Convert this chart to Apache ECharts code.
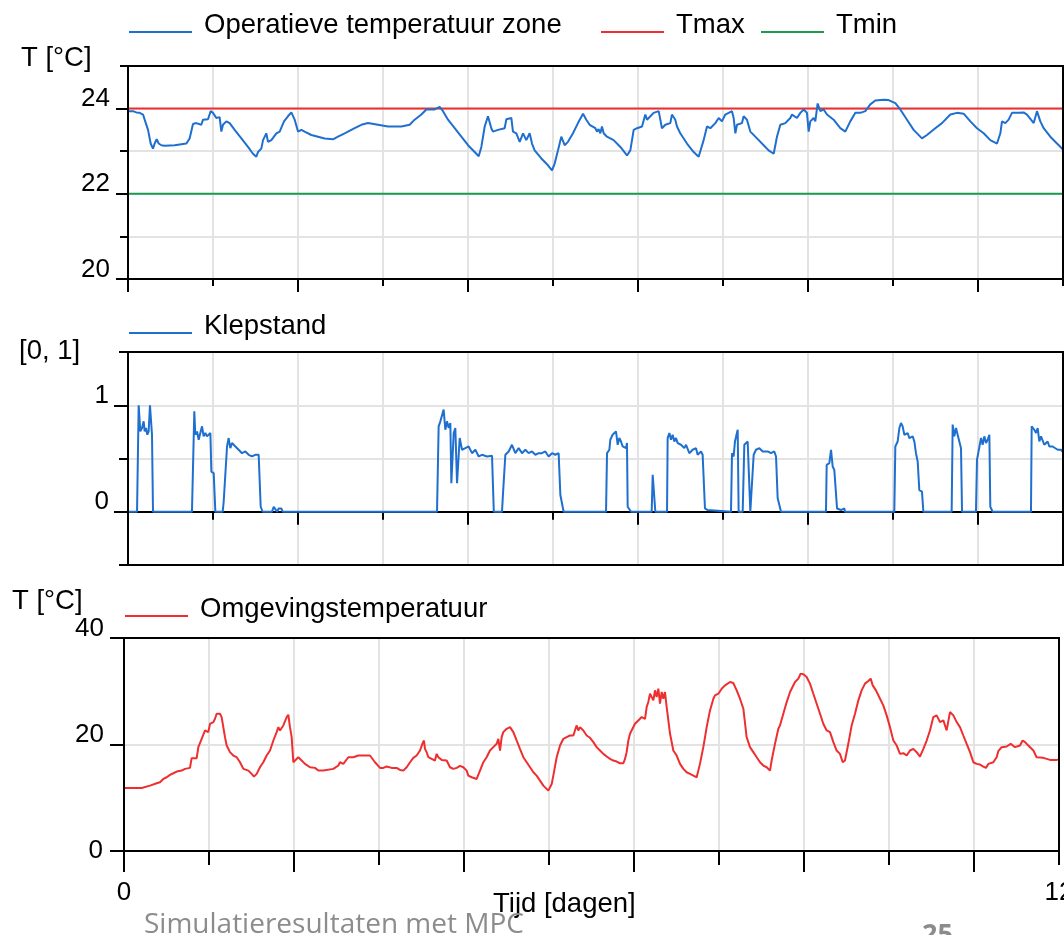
<!DOCTYPE html>
<html><head><meta charset="utf-8">
<script src="https://cdn.jsdelivr.net/npm/echarts@6/dist/echarts.min.js"></script>
<style>html,body{margin:0;padding:0;background:#fff}#c{width:1064px;height:935px}</style>
</head><body><div id="c"></div>
<script>
// ---- data (time in days) ----
const tZone = [[0.000,23.94],[0.021,23.98],[0.064,23.94],[0.107,23.91],[0.128,23.88],[0.150,23.90],[0.193,23.86],[0.214,23.74],[0.257,23.50],[0.291,23.18],[0.321,23.06],[0.342,23.18],[0.368,23.28],[0.394,23.18],[0.428,23.14],[0.471,23.13],[0.599,23.14],[0.749,23.18],[0.791,23.30],[0.834,23.64],[0.877,23.66],[0.941,23.62],[0.963,23.74],[1.027,23.75],[1.061,23.94],[1.091,23.90],[1.134,23.78],[1.176,23.80],[1.198,23.46],[1.219,23.62],[1.262,23.70],[1.305,23.66],[1.369,23.50],[1.455,23.30],[1.540,23.10],[1.604,22.94],[1.647,22.87],[1.668,22.98],[1.711,23.06],[1.733,23.26],[1.754,23.30],[1.775,23.42],[1.797,23.22],[1.840,23.26],[1.904,23.42],[1.947,23.46],[2.002,23.70],[2.053,23.82],[2.096,23.91],[2.139,23.74],[2.182,23.46],[2.225,23.50],[2.267,23.46],[2.353,23.38],[2.524,23.30],[2.631,23.28],[2.695,23.34],[2.781,23.42],[2.909,23.54],[2.995,23.62],[3.080,23.66],[3.209,23.62],[3.337,23.58],[3.508,23.58],[3.615,23.62],[3.679,23.74],[3.765,23.86],[3.829,23.98],[3.936,23.98],[4.000,24.04],[4.043,23.94],[4.107,23.74],[4.193,23.54],[4.278,23.34],[4.364,23.14],[4.449,22.98],[4.501,22.88],[4.535,23.10],[4.578,23.58],[4.620,23.82],[4.663,23.54],[4.684,23.46],[4.749,23.50],[4.834,23.54],[4.856,23.75],[4.920,23.78],[4.941,23.46],[4.984,23.42],[5.027,23.22],[5.070,23.42],[5.112,23.26],[5.155,23.42],[5.185,23.18],[5.219,23.02],[5.305,22.83],[5.390,22.67],[5.442,22.55],[5.476,22.71],[5.519,23.02],[5.561,23.34],[5.604,23.14],[5.647,23.22],[5.711,23.42],[5.775,23.66],[5.840,23.88],[5.882,23.74],[5.925,23.62],[5.998,23.54],[6.019,23.46],[6.040,23.52],[6.062,23.42],[6.083,23.58],[6.105,23.42],[6.147,23.34],[6.233,23.26],[6.319,23.10],[6.404,22.90],[6.447,23.02],[6.490,23.50],[6.533,23.54],[6.597,23.58],[6.639,23.86],[6.661,23.74],[6.704,23.82],[6.746,23.90],[6.768,23.86],[6.811,23.94],[6.832,23.74],[6.853,23.54],[6.896,23.62],[6.960,23.66],[6.981,23.86],[7.024,23.74],[7.046,23.58],[7.088,23.42],[7.174,23.18],[7.260,22.98],[7.324,22.87],[7.388,23.26],[7.431,23.58],[7.474,23.54],[7.538,23.66],[7.581,23.78],[7.623,23.70],[7.666,23.86],[7.752,23.94],[7.773,23.78],[7.795,23.42],[7.816,23.62],[7.880,23.66],[7.901,23.82],[7.944,23.74],[7.987,23.46],[8.073,23.30],[8.158,23.14],[8.222,23.02],[8.287,22.94],[8.329,23.34],[8.372,23.62],[8.436,23.66],[8.500,23.78],[8.522,23.86],[8.543,23.82],[8.586,23.78],[8.629,23.90],[8.672,23.98],[8.714,23.90],[8.736,23.46],[8.757,23.70],[8.800,23.78],[8.821,23.70],[8.851,24.12],[8.886,23.94],[8.928,23.98],[8.971,23.86],[9.056,23.74],[9.142,23.54],[9.206,23.46],[9.270,23.70],[9.335,23.90],[9.399,23.90],[9.463,23.94],[9.527,24.10],[9.591,24.19],[9.698,24.21],[9.762,24.20],[9.848,24.13],[9.912,23.98],[9.998,23.74],[10.083,23.50],[10.190,23.30],[10.254,23.38],[10.361,23.54],[10.447,23.66],[10.554,23.86],[10.640,23.90],[10.725,23.88],[10.811,23.70],[10.896,23.54],[10.982,23.42],[11.067,23.26],[11.153,23.18],[11.196,23.42],[11.217,23.70],[11.260,23.66],[11.302,23.74],[11.345,23.90],[11.431,23.90],[11.495,23.91],[11.538,23.86],[11.624,23.66],[11.666,23.94],[11.709,23.70],[11.752,23.54],[11.837,23.34],[11.923,23.18],[12.000,23.04]];
const tMax = [[0,24],[12,24]];
const tMin = [[0,22],[12,22]];
const klepstand = [[0,0],[0.116,0],[0.137,1.0],[0.146,1.0],[0.158,0.755],[0.180,0.786],[0.201,0.849],[0.214,0.755],[0.231,0.786],[0.248,0.723],[0.265,0.755],[0.282,1.0],[0.300,1.0],[0.308,0.723],[0.321,0],[0.821,0],[0.851,0.943],[0.864,0.723],[0.886,0.755],[0.907,0.676],[0.928,0.739],[0.950,0.802],[0.971,0.708],[0.993,0.739],[1.014,0.708],[1.057,0.739],[1.070,0.377],[1.100,0.362],[1.121,0],[1.215,0],[1.228,0.094],[1.249,0.094],[1.271,0.613],[1.292,0.692],[1.313,0.597],[1.335,0.645],[1.378,0.613],[1.420,0.582],[1.463,0.550],[1.506,0.566],[1.549,0.535],[1.591,0.519],[1.634,0.535],[1.677,0.535],[1.690,0.535],[1.703,0.047],[1.728,0],[1.848,0],[1.870,0.047],[1.891,0.047],[1.912,0],[1.934,0.031],[1.968,0.031],[1.985,0],[3.966,0],[3.987,0.802],[4.009,0.849],[4.030,0.865],[4.051,0.959],[4.073,0.770],[4.094,0.849],[4.116,0.786],[4.137,0.833],[4.150,0.267],[4.167,0.267],[4.180,0.739],[4.201,0.786],[4.223,0.267],[4.244,0.283],[4.257,0.692],[4.287,0.582],[4.329,0.597],[4.372,0.613],[4.415,0.550],[4.458,0.582],[4.501,0.519],[4.543,0.535],[4.608,0.519],[4.672,0.525],[4.693,0.525],[4.695,0],[4.800,0],[4.813,0.173],[4.830,0.173],[4.843,0.535],[4.886,0.566],[4.928,0.629],[4.971,0.550],[5.014,0.597],[5.057,0.550],[5.100,0.582],[5.142,0.550],[5.185,0.566],[5.228,0.535],[5.271,0.550],[5.313,0.550],[5.356,0.566],[5.399,0.519],[5.442,0.550],[5.485,0.535],[5.527,0.550],[5.549,0.157],[5.570,0.157],[5.591,0],[6.135,0],[6.148,0.550],[6.178,0.582],[6.190,0.676],[6.220,0.723],[6.242,0.708],[6.263,0.755],[6.285,0.629],[6.306,0.692],[6.327,0.660],[6.349,0.613],[6.370,0.629],[6.391,0.597],[6.404,0.645],[6.413,0.047],[6.434,0.031],[6.456,0],[6.721,0],[6.734,0.346],[6.755,0.330],[6.768,0],[6.918,0],[6.926,0.692],[6.948,0.739],[6.969,0.676],[6.990,0.723],[7.012,0.660],[7.033,0.692],[7.055,0.645],[7.076,0.645],[7.097,0.629],[7.140,0.597],[7.162,0.629],[7.204,0.550],[7.247,0.582],[7.268,0.566],[7.290,0.597],[7.311,0.535],[7.354,0.566],[7.375,0.535],[7.397,0.535],[7.405,0.031],[7.440,0.016],[7.461,0],[7.739,0],[7.752,0.550],[7.773,0.519],[7.790,0.660],[7.825,0.770],[7.837,0],[7.889,0],[7.910,0.629],[7.932,0.629],[7.953,0.660],[7.974,0.645],[7.987,0],[8.009,0],[8.030,0.535],[8.060,0.582],[8.081,0.566],[8.103,0.597],[8.124,0.613],[8.146,0.566],[8.167,0.582],[8.210,0.566],[8.252,0.550],[8.295,0.566],[8.317,0.519],[8.338,0.126],[8.359,0.110],[8.381,0],[8.958,0],[8.967,0.440],[9.001,0.456],[9.023,0.582],[9.044,0.425],[9.065,0.393],[9.087,0.377],[9.100,0.031],[9.151,0.016],[9.172,0.031],[9.194,0.031],[9.202,0],[9.835,0],[9.848,0.613],[9.878,0.660],[9.900,0.786],[9.921,0.833],[9.942,0.802],[9.964,0.723],[10.006,0.739],[10.028,0.692],[10.071,0.708],[10.092,0.660],[10.113,0.550],[10.135,0.472],[10.156,0.204],[10.190,0.189],[10.208,0],[10.571,0],[10.584,0.818],[10.605,0.708],[10.627,0.786],[10.648,0.723],[10.670,0.708],[10.691,0.597],[10.704,0],[10.883,0],[10.896,0.487],[10.918,0.503],[10.948,0.692],[10.969,0.629],[10.990,0.708],[11.012,0.645],[11.033,0.676],[11.055,0.723],[11.067,0.047],[11.097,0],[11.589,0],[11.598,0.802],[11.632,0.770],[11.654,0.739],[11.675,0.786],[11.696,0.660],[11.718,0.708],[11.739,0.723],[11.760,0.629],[11.803,0.660],[11.825,0.613],[11.867,0.613],[11.889,0.597],[11.932,0.582],[11.974,0.582],[12.000,0.560]];
const tAmb = [[0.000,11.84],[0.227,11.84],[0.240,12.15],[0.334,12.28],[0.355,12.47],[0.419,12.72],[0.462,12.91],[0.483,13.09],[0.505,13.53],[0.548,13.85],[0.590,14.29],[0.633,14.60],[0.676,14.92],[0.740,15.10],[0.783,15.42],[0.847,15.61],[0.868,17.43],[0.933,17.43],[0.954,19.50],[0.997,21.07],[1.040,22.64],[1.061,22.95],[1.082,22.32],[1.104,23.89],[1.147,24.21],[1.168,24.83],[1.189,25.78],[1.211,26.09],[1.232,25.78],[1.253,25.15],[1.275,24.83],[1.296,21.38],[1.318,19.81],[1.360,18.56],[1.403,17.93],[1.446,17.61],[1.489,16.67],[1.532,15.42],[1.596,15.10],[1.638,14.48],[1.668,13.97],[1.703,14.48],[1.745,15.73],[1.788,16.67],[1.831,17.93],[1.874,18.87],[1.917,20.75],[1.959,22.32],[1.981,23.26],[2.002,22.64],[2.045,23.58],[2.088,25.15],[2.109,25.59],[2.130,23.26],[2.152,21.38],[2.173,16.67],[2.195,16.36],[2.237,17.61],[2.280,16.99],[2.323,16.36],[2.387,15.73],[2.451,15.61],[2.494,15.10],[2.558,15.10],[2.687,15.42],[2.751,16.05],[2.772,16.67],[2.815,16.36],[2.879,17.61],[2.943,17.61],[3.007,17.93],[3.072,17.93],[3.157,17.93],[3.221,16.67],[3.286,15.61],[3.328,15.61],[3.371,15.86],[3.435,15.61],[3.499,15.61],[3.542,15.23],[3.585,15.10],[3.628,15.73],[3.671,16.67],[3.713,17.49],[3.756,17.93],[3.799,18.87],[3.833,20.25],[3.850,20.75],[3.863,19.18],[3.884,18.56],[3.906,17.61],[3.927,17.30],[3.991,16.99],[4.013,18.24],[4.034,17.61],[4.077,17.11],[4.141,16.99],[4.184,15.73],[4.227,15.42],[4.270,15.61],[4.312,15.98],[4.355,15.73],[4.398,15.10],[4.419,14.16],[4.462,13.85],[4.526,13.53],[4.569,15.10],[4.612,16.67],[4.654,17.61],[4.697,18.87],[4.740,19.50],[4.783,20.13],[4.804,21.07],[4.826,18.87],[4.847,21.38],[4.868,22.32],[4.911,22.95],[4.933,23.26],[4.954,23.26],[4.997,22.32],[5.040,20.75],[5.082,19.18],[5.125,17.61],[5.168,16.67],[5.211,15.73],[5.254,14.79],[5.296,14.16],[5.339,13.22],[5.382,12.28],[5.446,11.34],[5.489,12.59],[5.510,14.16],[5.553,17.61],[5.596,19.81],[5.639,21.07],[5.681,21.38],[5.724,21.69],[5.767,21.69],[5.788,22.64],[5.810,23.58],[5.831,22.64],[5.852,23.26],[5.895,22.64],[5.938,21.69],[5.981,21.26],[6.024,20.44],[6.066,19.50],[6.109,18.87],[6.152,18.24],[6.195,17.74],[6.238,17.30],[6.280,16.99],[6.323,16.80],[6.366,16.48],[6.409,16.48],[6.430,17.30],[6.451,18.56],[6.473,20.75],[6.494,22.01],[6.515,22.64],[6.537,22.32],[6.558,23.89],[6.580,23.89],[6.601,24.52],[6.622,24.52],[6.644,25.15],[6.665,25.47],[6.687,24.83],[6.708,27.03],[6.729,27.97],[6.751,29.54],[6.772,28.91],[6.794,28.29],[6.815,30.17],[6.836,28.91],[6.858,30.48],[6.879,27.66],[6.901,29.86],[6.922,28.60],[6.943,29.86],[6.965,27.03],[6.986,26.72],[7.008,22.01],[7.050,18.87],[7.093,17.93],[7.136,16.36],[7.179,15.42],[7.221,14.79],[7.264,14.48],[7.307,14.16],[7.350,13.85],[7.371,13.85],[7.392,16.36],[7.435,19.50],[7.457,21.38],[7.478,23.26],[7.521,26.40],[7.564,28.60],[7.585,29.23],[7.628,29.54],[7.671,30.48],[7.713,31.11],[7.778,31.74],[7.820,31.55],[7.863,30.17],[7.906,28.60],[7.949,26.72],[7.991,21.38],[8.034,19.50],[8.077,18.56],[8.120,17.61],[8.163,16.67],[8.205,16.05],[8.248,15.73],[8.291,15.10],[8.312,16.99],[8.355,20.13],[8.398,22.95],[8.419,23.58],[8.462,25.78],[8.505,27.97],[8.548,29.86],[8.612,31.74],[8.655,32.37],[8.684,33.31],[8.719,33.18],[8.761,32.68],[8.804,31.43],[8.847,29.54],[8.890,27.66],[8.933,25.78],[8.975,23.89],[9.018,22.64],[9.061,22.32],[9.104,20.44],[9.146,18.87],[9.189,18.24],[9.211,17.93],[9.224,16.67],[9.253,16.99],[9.296,20.13],[9.339,23.58],[9.382,25.78],[9.425,28.29],[9.467,30.17],[9.510,31.43],[9.553,31.93],[9.583,32.37],[9.609,31.11],[9.651,30.17],[9.703,28.60],[9.745,27.34],[9.788,25.47],[9.831,23.26],[9.874,20.75],[9.917,19.81],[9.959,18.24],[10.002,18.37],[10.045,17.93],[10.088,18.87],[10.130,19.18],[10.173,18.56],[10.216,17.74],[10.259,19.18],[10.302,20.75],[10.344,22.64],[10.387,25.15],[10.430,25.47],[10.473,24.21],[10.516,24.52],[10.558,22.64],[10.601,26.09],[10.644,25.47],[10.687,24.21],[10.729,23.26],[10.772,21.69],[10.815,20.13],[10.858,18.56],[10.901,16.67],[10.943,16.36],[10.986,16.24],[11.029,15.86],[11.063,15.61],[11.093,16.36],[11.157,16.67],[11.200,17.61],[11.221,18.74],[11.264,19.50],[11.328,19.62],[11.380,20.13],[11.435,19.50],[11.499,19.81],[11.533,20.75],[11.564,20.44],[11.606,19.81],[11.671,18.87],[11.713,17.61],[11.799,17.49],[11.842,17.30],[11.885,17.11],[11.970,17.11],[12.000,17.20]];

// ---- axis ticks ----
const xStep = 12 / 11;
const xLongTicks = [0, 2, 4, 6, 8, 10].map(k => k * xStep);
const xShortTicks = [1, 3, 5, 7, 9, 11].map(k => k * xStep);
const xLabelValues = [0, 12];
const y1Labels = [20, 22, 24], y1Minor = [21, 23, 25];
const y2Labels = [0, 1], y2Minor = [-0.5, 0.5, 1.5];
const y3Ticks = [0, 20, 40], y3Labels = [20, 40], y3ZeroLabel = [0];

const FONT = "'Liberation Sans', Arial, sans-serif";
const BLUE = '#1f6fcf', RED = '#ee2e2f', GREEN = '#1b9a52';
const GRIDC = '#e3e3e3';

const chart = echarts.init(document.getElementById('c'), null, {renderer: 'canvas'});

const gridDefs = [
  {left: 128, top: 66, width: 935, height: 213},
  {left: 128, top: 352, width: 935, height: 213},
  {left: 124, top: 638, width: 935, height: 213}
];
const xTickLen = [[13, 7], [13, 8], [21, 14]];

const xAxes = [];
gridDefs.forEach((g, gi) => {
  xAxes.push({gridIndex: gi, type: 'value', min: 0, max: 12, interval: xStep,
    axisLine: {show: false}, axisTick: {show: false}, axisLabel: {show: false},
    splitLine: {show: true, lineStyle: {color: GRIDC, width: 2}}});
  xAxes.push({gridIndex: gi, type: 'value', min: 0, max: 12, position: 'bottom',
    axisLine: {show: true, lineStyle: {color: '#000', width: 2}},
    axisTick: {show: true, length: xTickLen[gi][0], customValues: xLongTicks, lineStyle: {color: '#000', width: 2}},
    axisLabel: gi === 2 ? {show: true, customValues: xLabelValues, margin: 29, fontSize: 26, fontFamily: FONT, color: '#000'} : {show: false},
    splitLine: {show: false}});
  xAxes.push({gridIndex: gi, type: 'value', min: 0, max: 12, position: 'bottom',
    axisLine: {show: false},
    axisTick: {show: true, length: xTickLen[gi][1], customValues: xShortTicks, lineStyle: {color: '#000', width: 2}},
    axisLabel: {show: false}, splitLine: {show: false}});
});

function yLabel(vals, margin, va) {
  return {show: true, customValues: vals, margin: margin, fontSize: 26, fontFamily: FONT, color: '#000',
    verticalAlign: va || 'bottom', lineHeight: 19};
}
const yAxes = [
  // panel 1
  {gridIndex: 0, type: 'value', min: 20, max: 25, interval: 1, position: 'left',
   axisLine: {show: false}, axisTick: {show: false}, axisLabel: {show: false},
   splitLine: {show: true, lineStyle: {color: GRIDC, width: 2}}},
  {gridIndex: 0, type: 'value', min: 20, max: 25, position: 'left',
   axisLine: {show: true, lineStyle: {color: '#000', width: 2}},
   axisTick: {show: true, length: 12, customValues: y1Labels, lineStyle: {color: '#000', width: 2}},
   axisLabel: yLabel(y1Labels, 18), splitLine: {show: false}},
  {gridIndex: 0, type: 'value', min: 20, max: 25, position: 'left',
   axisLine: {show: false},
   axisTick: {show: true, length: 8, customValues: y1Minor, lineStyle: {color: '#000', width: 2}},
   axisLabel: {show: false}, splitLine: {show: false}},
  // panel 2
  {gridIndex: 1, type: 'value', min: -0.5, max: 1.5, interval: 0.5, position: 'left',
   axisLine: {show: false}, axisTick: {show: false}, axisLabel: {show: false},
   splitLine: {show: true, lineStyle: {color: GRIDC, width: 2}}},
  {gridIndex: 1, type: 'value', min: -0.5, max: 1.5, position: 'left',
   axisLine: {show: true, lineStyle: {color: '#000', width: 2}},
   axisTick: {show: true, length: 14, customValues: y2Labels, lineStyle: {color: '#000', width: 2}},
   axisLabel: yLabel(y2Labels, 19), splitLine: {show: false}},
  {gridIndex: 1, type: 'value', min: -0.5, max: 1.5, position: 'left',
   axisLine: {show: false},
   axisTick: {show: true, length: 9, customValues: y2Minor, lineStyle: {color: '#000', width: 2}},
   axisLabel: {show: false}, splitLine: {show: false}},
  // panel 3
  {gridIndex: 2, type: 'value', min: 0, max: 40, interval: 20, position: 'left',
   axisLine: {show: false}, axisTick: {show: false}, axisLabel: {show: false},
   splitLine: {show: true, lineStyle: {color: GRIDC, width: 2}}},
  {gridIndex: 2, type: 'value', min: 0, max: 40, position: 'left',
   axisLine: {show: true, lineStyle: {color: '#000', width: 2}},
   axisTick: {show: true, length: 14, customValues: y3Ticks, lineStyle: {color: '#000', width: 2}},
   axisLabel: yLabel(y3Labels, 20), splitLine: {show: false}},
  {gridIndex: 2, type: 'value', min: 0, max: 40, position: 'left',
   axisLine: {show: false}, axisTick: {show: false},
   axisLabel: yLabel(y3ZeroLabel, 21, 'middle'), splitLine: {show: false}}
];

function lineSeries(name, data, color, xi, yi) {
  return {name: name, type: 'line', data: data, xAxisIndex: xi, yAxisIndex: yi,
    showSymbol: false, symbol: 'none', smooth: false, animation: false,
    lineStyle: {color: color, width: 2}, itemStyle: {color: color}, z: 3};
}

// legend icon: a 63px line drawn low in a 20px high box (text baseline level)
const LEGEND_ICON = 'path://M0,0L0,0M0,20L0,20M0,16L63,16L63,18L0,18Z';
function legendAt(name, left, top) {
  return {data: [name], left: left, top: top, padding: 0, icon: LEGEND_ICON, itemWidth: 63, itemHeight: 20,
    selectedMode: false,
    textStyle: {fontSize: 27.5, fontFamily: FONT, color: '#000', lineHeight: 20, padding: [0, 0, 0, 7]}};
}

function txt(text, left, top, extra) {
  return {type: 'text', left: left, top: top, z: 10,
    style: Object.assign({text: text, font: '27.5px ' + FONT, fill: '#000'}, extra || {})};
}

const option = {
  animation: false,
  backgroundColor: '#fff',
  textStyle: {fontFamily: FONT},
  grid: gridDefs.map(g => Object.assign({show: true, borderColor: '#000', borderWidth: 2,
    backgroundColor: 'transparent', z: 4, containLabel: false, outerBoundsMode: 'none'}, g)),
  xAxis: xAxes,
  yAxis: yAxes,
  legend: [
    legendAt('Operatieve temperatuur zone', 129, 11),
    legendAt('Tmax', 601, 11),
    legendAt('Tmin', 761, 11),
    legendAt('Klepstand', 129, 312),
    legendAt('Omgevingstemperatuur', 125, 595)
  ],
  graphic: [
    txt('T [°C]', 21, 44),
    txt('[0, 1]', 19, 337),
    txt('T [°C]', 12, 587),
    txt('Tijd [dagen]', 493, 890),
    txt('Simulatieresultaten met MPC', 144, 911, {font: "28px 'Open Sans', sans-serif", fill: '#8c8c8c'}),
    txt('25', 922, 922, {font: "bold 27px 'Open Sans', sans-serif", fill: '#8c8c8c'})
  ],
  series: [
    lineSeries('Tmax', tMax, RED, 0, 0),
    lineSeries('Tmin', tMin, GREEN, 0, 0),
    lineSeries('Operatieve temperatuur zone', tZone, BLUE, 0, 0),
    lineSeries('Klepstand', klepstand, BLUE, 3, 3),
    lineSeries('Omgevingstemperatuur', tAmb, RED, 6, 6)
  ]
};
chart.setOption(option);
</script>
</body></html>
